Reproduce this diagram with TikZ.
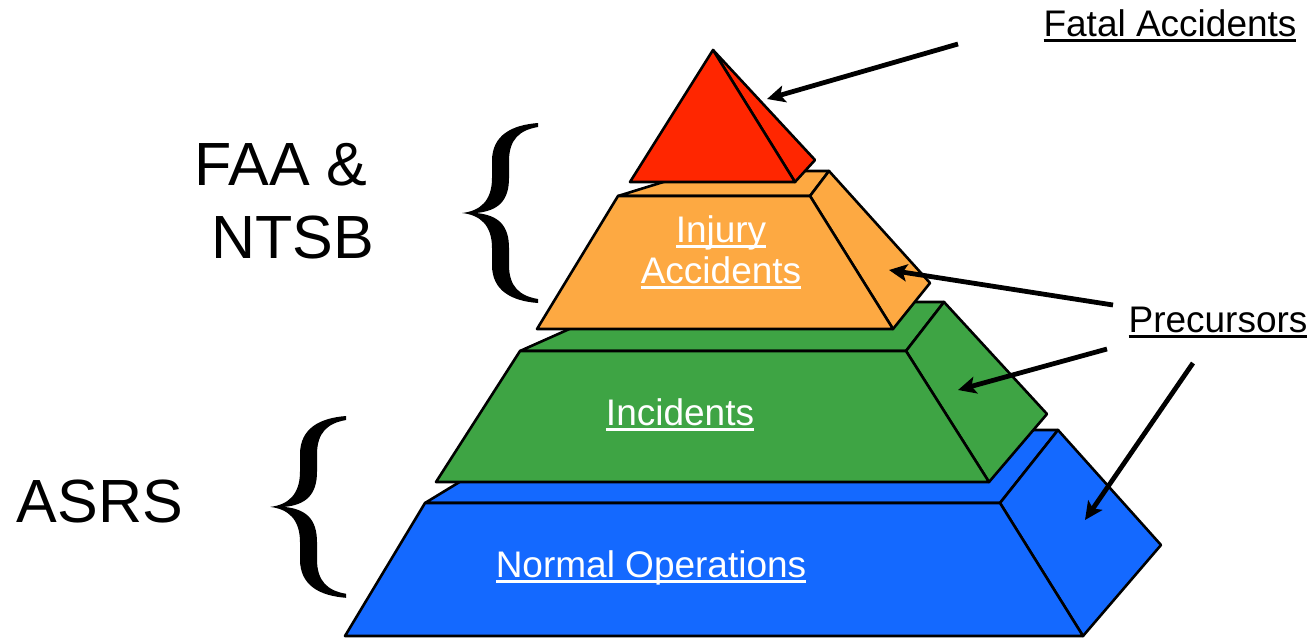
\documentclass[tikz,border=0pt]{standalone}
\usepackage{fontspec}
\setmainfont{Liberation Sans}
\usetikzlibrary{arrows.meta}
\definecolor{pyrred}{RGB}{255,38,0}
\definecolor{pyrorange}{RGB}{253,169,66}
\definecolor{pyrgreen}{RGB}{62,164,68}
\definecolor{pyrblue}{RGB}{20,105,255}
\newcommand\ulw[1]{\setbox0=\hbox{#1}\rlap{\rule[-6pt]{\wd0}{2.8pt}}\box0}
\newcommand\bracepath{(76,0) .. controls (50,2) and (30,12) .. (30,38) -- (30,55) .. controls (30,78) and (18,88) .. (0,90) .. controls (18,92) and (30,102) .. (30,125) -- (30,142) .. controls (30,168) and (50,178) .. (76,180) -- (76,176) .. controls (58,173) and (47,164) .. (47,142) -- (47,125) .. controls (47,102) and (36,92) .. (14,90) .. controls (36,88) and (47,78) .. (47,55) -- (47,38) .. controls (47,16) and (58,7) .. (76,4) -- cycle}
\tikzset{
  face/.style={draw=black, line width=2.6pt, line join=round},
  lbl/.style={font=\fontsize{37}{44}\selectfont, inner sep=0pt, anchor=base},
  inlbl/.style={lbl, text=white},
  big/.style={font=\fontsize{61}{72}\selectfont, inner sep=0pt, anchor=base},
  ptr/.style={line width=4.8pt, -{Stealth[length=18pt,width=17pt,inset=4pt]}},
  bracefill/.style={fill=black}
}
\begin{document}
\begin{tikzpicture}[x=1pt,y=-1pt]
\useasboundingbox (0,0) rectangle (1313,637);
\fill[white] (0,0) rectangle (1313,637);
% blue tier
\path[face,fill=pyrblue] (425,503) -- (1000,503) -- (1058,430) -- (545,430) -- cycle;
\path[face,fill=pyrblue] (1000,503) -- (1058,430) -- (1161,545) -- (1083,636) -- cycle;
\path[face,fill=pyrblue] (425,503) -- (1000,503) -- (1083,636) -- (345,636) -- cycle;
% green tier
\path[face,fill=pyrgreen] (520,351) -- (906,351) -- (944,302) -- (630,302) -- cycle;
\path[face,fill=pyrgreen] (906,351) -- (944,302) -- (1047,414) -- (989,482) -- cycle;
\path[face,fill=pyrgreen] (520,351) -- (906,351) -- (989,482) -- (436,482) -- cycle;
% orange tier
\path[face,fill=pyrorange] (618,196) -- (810,196) -- (829,171) -- (699,171) -- cycle;
\path[face,fill=pyrorange] (810,196) -- (829,171) -- (930,283) -- (893,329) -- cycle;
\path[face,fill=pyrorange] (618,196) -- (810,196) -- (893,329) -- (537,329) -- cycle;
% red tip
\path[face,fill=pyrred] (713,50) -- (815,160) -- (795,182) -- cycle;
\path[face,fill=pyrred] (713,50) -- (795,182) -- (630,182) -- cycle;
% inner labels
\node[inlbl] (inj1) at (721,242) {\ulw{Injury}};
\node[inlbl] (inj2) at (721,283) {\ulw{Accidents}};
\node[inlbl] (inc) at (680,425) {\ulw{Incidents}};
\node[inlbl] (norm) at (651,577) {\ulw{Normal Operations}};
% outer labels
\node[lbl] (fatal) at (1170,36) {\ulw{Fatal Accidents}};
\node[lbl] (prec) at (1218,332) {\ulw{Precursors}};
\node[big] (faa) at (281,185) {FAA \&};
\node[big] (ntsb) at (293,258) {NTSB};
\node[big] (asrs) at (100,522) {ASRS};
% braces
\begin{scope}[shift={(462,123)}]
\fill[bracefill] \bracepath;
\end{scope}
\begin{scope}[shift={(270,416)}, yscale=1.01]
\fill[bracefill] \bracepath;
\end{scope}
% arrows
\coordinate (fatalT) at (958,44);
\coordinate (fatalH) at (767,99);
\coordinate (p1T) at (1113,305);
\coordinate (p1H) at (889,270);
\coordinate (p2T) at (1107,349);
\coordinate (p2H) at (958,390);
\coordinate (p3T) at (1193,363);
\coordinate (p3H) at (1085,520);
\draw[ptr] (fatalT) -- (fatalH);
\draw[ptr] (p1T) -- (p1H);
\draw[ptr] (p2T) -- (p2H);
\draw[ptr] (p3T) -- (p3H);
\end{tikzpicture}
\end{document}
